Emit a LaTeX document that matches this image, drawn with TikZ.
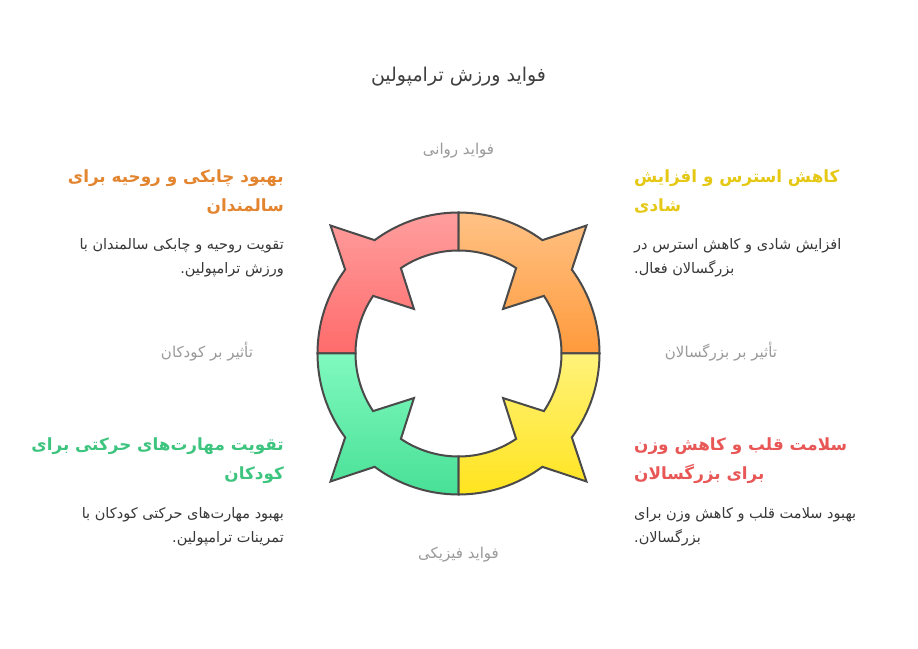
\documentclass[tikz,border=0pt]{standalone}
\usepackage{fontspec}
\setmainfont{DejaVu Sans}
\newfontfamily\arabicfont[Script=Arabic]{DejaVu Sans}
\TeXXeTstate=1
\definecolor{ringgray}{HTML}{4A4A4A}
\definecolor{redtop}{HTML}{FF9E9E}
\definecolor{redbottom}{HTML}{FF6B6B}
\definecolor{orangetop}{HTML}{FFC285}
\definecolor{orangebottom}{HTML}{FF9A3C}
\definecolor{yellowtop}{HTML}{FFF27A}
\definecolor{yellowbottom}{HTML}{FFE41E}
\definecolor{greentop}{HTML}{80F9BF}
\definecolor{greenbottom}{HTML}{48E096}
\definecolor{elderstext}{HTML}{E3842E}
\definecolor{moodtext}{HTML}{E5C814}
\definecolor{kidstext}{HTML}{3DC47E}
\definecolor{hearttext}{HTML}{E85656}
\definecolor{titlegray}{HTML}{404040}
\definecolor{bodygray}{HTML}{383838}
\definecolor{labelgray}{HTML}{9A9A9A}

\begin{document}
\begin{tikzpicture}
[x=1pt, y=1pt,
ring/.style={draw=ringgray, line width=2pt, line join=miter},
elders/.style={ring, top color=redtop, bottom color=redbottom},
mood/.style={ring, top color=orangetop, bottom color=orangebottom},
adults/.style={ring, top color=yellowtop, bottom color=yellowbottom},
kids/.style={ring, top color=greentop, bottom color=greenbottom},
title/.style={font=\arabicfont\fontsize{19}{23}\selectfont, text=titlegray, inner sep=0pt},
axis label/.style={font=\arabicfont\fontsize{15}{18}\selectfont, text=labelgray, inner sep=0pt},
heading/.style={font=\arabicfont\bfseries\fontsize{16.8}{29.5}\selectfont, inner sep=0pt},
body/.style={font=\arabicfont\fontsize{14.5}{24.5}\selectfont, text=bodygray, inner sep=0pt}]
\fill[white] (0,0) rectangle (918,648);
\begin{scope}[shift={(458.5,294.5)}]
\draw[elders] (90:141pt) arc[start angle=90, end angle=126.5, radius=141pt] -- (135:181pt) -- (143.5:141pt) arc[start angle=143.5, end angle=180, radius=141pt] -- (180:103pt) arc[start angle=180, end angle=146, radius=103pt] -- (135:63pt) -- (124:103pt) arc[start angle=124, end angle=90, radius=103pt] -- cycle;
\draw[mood] (0:141pt) arc[start angle=0, end angle=36.5, radius=141pt] -- (45:181pt) -- (53.5:141pt) arc[start angle=53.5, end angle=90, radius=141pt] -- (90:103pt) arc[start angle=90, end angle=56, radius=103pt] -- (45:63pt) -- (34:103pt) arc[start angle=34, end angle=0, radius=103pt] -- cycle;
\draw[kids] (180:141pt) arc[start angle=180, end angle=216.5, radius=141pt] -- (225:181pt) -- (233.5:141pt) arc[start angle=233.5, end angle=270, radius=141pt] -- (270:103pt) arc[start angle=270, end angle=236, radius=103pt] -- (225:63pt) -- (214:103pt) arc[start angle=214, end angle=180, radius=103pt] -- cycle;
\draw[adults] (270:141pt) arc[start angle=270, end angle=306.5, radius=141pt] -- (315:181pt) -- (323.5:141pt) arc[start angle=323.5, end angle=360, radius=141pt] -- (0:103pt) arc[start angle=360, end angle=326, radius=103pt] -- (315:63pt) -- (304:103pt) arc[start angle=304, end angle=270, radius=103pt] -- cycle;
\end{scope}
% title and axis labels
\node[title, anchor=base] (title) at (458.5,566) {\beginR فواید ورزش ترامپولین\endR};
\node[axis label, anchor=base] (psych) at (458.5,493) {\beginR فواید روانی\endR};
\node[axis label, anchor=base] (phys) at (458.5,89) {\beginR فواید فیزیکی\endR};
\node[axis label, anchor=base] (kids) at (207,290) {\beginR تأثیر بر کودکان\endR};
\node[axis label, anchor=base] (adults) at (721,290) {\beginR تأثیر بر بزرگسالان\endR};
% text blocks (base = last line)
\node[heading, text=elderstext, anchor=base east, align=right] (elders head) at (284,436) {\beginR بهبود چابکی و روحیه برای\endR\\\beginR سالمندان\endR};
\node[body, anchor=base east, align=right] (elders body) at (284,374) {\beginR تقویت روحیه و چابکی سالمندان با\endR\\\beginR ورزش ترامپولین.\endR};
\node[heading, text=moodtext, anchor=base west, align=left] (mood head) at (634,436) {\beginR کاهش استرس و افزایش\endR\\\beginR شادی\endR};
\node[body, anchor=base west, align=left] (mood body) at (634,374) {\beginR افزایش شادی و کاهش استرس در\endR\\\beginR بزرگسالان فعال.\endR};
\node[heading, text=kidstext, anchor=base east, align=right] (kids head) at (284,168) {\beginR تقویت مهارت‌های حرکتی برای\endR\\\beginR کودکان\endR};
\node[body, anchor=base east, align=right] (kids body) at (284,105) {\beginR بهبود مهارت‌های حرکتی کودکان با\endR\\\beginR تمرینات ترامپولین.\endR};
\node[heading, text=hearttext, anchor=base west, align=left] (heart head) at (634,168) {\beginR سلامت قلب و کاهش وزن\endR\\\beginR برای بزرگسالان\endR};
\node[body, anchor=base west, align=left] (heart body) at (634,105) {\beginR بهبود سلامت قلب و کاهش وزن برای\endR\\\beginR بزرگسالان.\endR};
\end{tikzpicture}
\end{document}
